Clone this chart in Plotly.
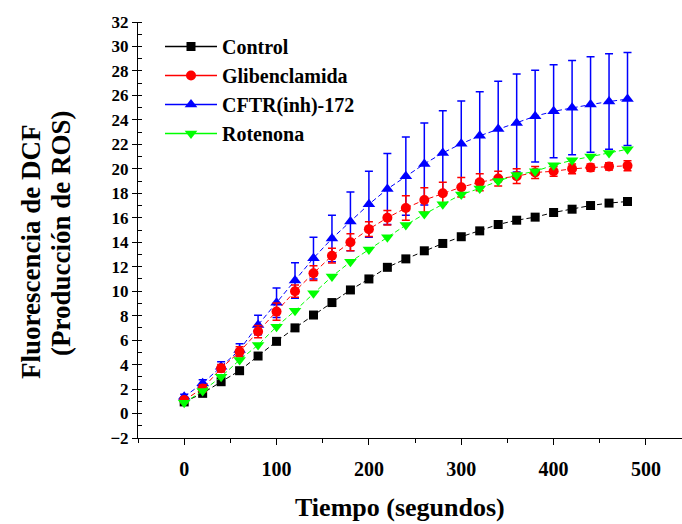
import plotly.graph_objects as go

tiempo = [0, 20, 40, 60, 80, 100, 120, 140, 160, 180, 200, 220, 240, 260, 280,
          300, 320, 340, 360, 380, 400, 420, 440, 460, 480]

control = [0.95, 1.65, 2.6, 3.5, 4.7, 5.9, 7.0, 8.05, 9.07, 10.1, 11.0, 11.95, 12.64, 13.3, 13.9,
           14.45, 14.93, 15.45, 15.8, 16.05, 16.43, 16.7, 17.0, 17.2, 17.33]

gliben = [1.1, 2.05, 3.7, 5.05, 6.7, 8.33, 10.0, 11.47, 12.9, 14.0, 15.07, 16.0, 16.8, 17.45, 18.0,
          18.5, 18.9, 19.2, 19.4, 19.7, 19.8, 20.0, 20.1, 20.2, 20.25]
gliben_err = [0.2, 0.3, 0.3, 0.4, 0.5, 0.7, 0.5, 0.6, 0.6, 0.7, 0.6, 0.6, 1.0, 1.0, 0.9,
              0.8, 0.7, 0.6, 0.6, 0.5, 0.4, 0.4, 0.3, 0.3, 0.4]

cftr = [1.37, 2.47, 3.83, 5.2, 7.24, 9.05, 10.87, 12.7, 14.3, 15.7, 17.1, 18.35, 19.4, 20.4, 21.3,
        22.05, 22.7, 23.25, 23.75, 24.3, 24.7, 25.0, 25.25, 25.5, 25.7]
cftr_err = [0.2, 0.3, 0.4, 0.5, 0.8, 1.2, 1.45, 1.7, 1.9, 2.4, 2.7, 2.9, 3.2, 3.35, 3.45,
            3.5, 3.6, 3.9, 4.0, 3.75, 3.8, 3.85, 3.9, 3.9, 3.8]

rotenona = [0.88, 1.84, 3.0, 4.38, 5.6, 7.1, 8.4, 9.83, 11.2, 12.4, 13.4, 14.4, 15.4, 16.3, 17.1,
            17.9, 18.4, 19.0, 19.5, 19.8, 20.3, 20.7, 21.0, 21.3, 21.6]

names = ["Control", "Glibenclamida", "CFTR(inh)-172", "Rotenona"]
colors = ["#000000", "#ff0000", "#0000ff", "#00ff00"]
symbols = ["square", "circle", "triangle-up", "triangle-down"]
sizes = [9, 10, 11, 11]
series = [control, gliben, cftr, rotenona]
errors = [None, gliben_err, cftr_err, None]

ytitle_lines = ["Fluorescencia de DCF", "(Producción de ROS)"]
xtitle = "Tiempo (segundos)"

FONT = "Liberation Serif"

fig = go.Figure()

order = [0, 2, 1, 3]
for i in order:
    err = None
    if errors[i] is not None:
        err = dict(type="data", array=errors[i], visible=True, color=colors[i],
                   thickness=1.5, width=4)
    fig.add_trace(go.Scatter(
        x=tiempo, y=series[i], mode="lines+markers", name=names[i],
        line=dict(color=colors[i], width=1, dash="5px,3px"),
        marker=dict(symbol=symbols[i], size=sizes[i], color=colors[i],
                    line=dict(width=0)),
        error_y=err, showlegend=False,
    ))

for i in range(4):
    fig.add_trace(go.Scatter(
        x=[None], y=[None], mode="lines+markers", name=names[i],
        line=dict(color=colors[i], width=1.5),
        marker=dict(symbol=symbols[i], size=sizes[i], color=colors[i]),
        legendgroup=names[i], showlegend=True,
    ))

PL, PW, PT, PH = 138, 544, 22, 416


def px_x(px):
    return (px - PL) / PW


def px_y(py):
    return (PT + PH - py) / PH


fig.update_layout(
    width=682, height=524,
    margin=dict(l=PL, r=682 - PL - PW, t=PT, b=524 - PT - PH),
    plot_bgcolor="white", paper_bgcolor="white",
    font=dict(family=FONT, size=15, color="black"),
    showlegend=True,
    legend=dict(
        x=px_x(160), y=px_y(27), xanchor="left", yanchor="top",
        bgcolor="rgba(0,0,0,0)",
        font=dict(family=FONT, size=20, color="black", weight="bold"),
        tracegroupgap=0, itemwidth=52,
    ),
    xaxis=dict(
        range=[-50, 539], tickmode="array",
        tickvals=[0, 100, 200, 300, 400, 500],
        ticks="outside", ticklen=6, tickwidth=1, tickcolor="black",
        showline=True, linecolor="black", linewidth=1,
        showgrid=False, zeroline=False,
        tickfont=dict(family=FONT, size=20, color="black", weight="bold"),
        ticklabelstandoff=7,
        minor=dict(tickvals=[-50, 50, 150, 250, 350, 450], ticks="outside",
                   ticklen=4, tickcolor="black", showgrid=False),
    ),
    yaxis=dict(
        range=[-2, 32], tickmode="linear", tick0=-2, dtick=2,
        ticks="outside", ticklen=5, tickwidth=1, tickcolor="black",
        showline=True, linecolor="black", linewidth=1,
        showgrid=False, zeroline=False,
        tickfont=dict(family=FONT, size=17, color="black", weight="bold"),
        minor=dict(dtick=1, ticks="inside", ticklen=4, tickcolor="black", showgrid=False),
    ),
    annotations=[
        dict(text=ytitle_lines[0], xref="paper", yref="paper",
             x=px_x(31), y=px_y(252),
             xanchor="center", yanchor="middle", textangle=-90, showarrow=False,
             font=dict(family=FONT, size=27, color="black", weight="bold")),
        dict(text=ytitle_lines[1], xref="paper", yref="paper",
             x=px_x(61), y=px_y(233),
             xanchor="center", yanchor="middle", textangle=-90, showarrow=False,
             font=dict(family=FONT, size=27, color="black", weight="bold")),
        dict(text=xtitle, xref="paper", yref="paper",
             x=px_x(400), y=px_y(507),
             xanchor="center", yanchor="middle", showarrow=False,
             font=dict(family=FONT, size=26, color="black", weight="bold")),
    ],
)

fig.write_html("out.html")
